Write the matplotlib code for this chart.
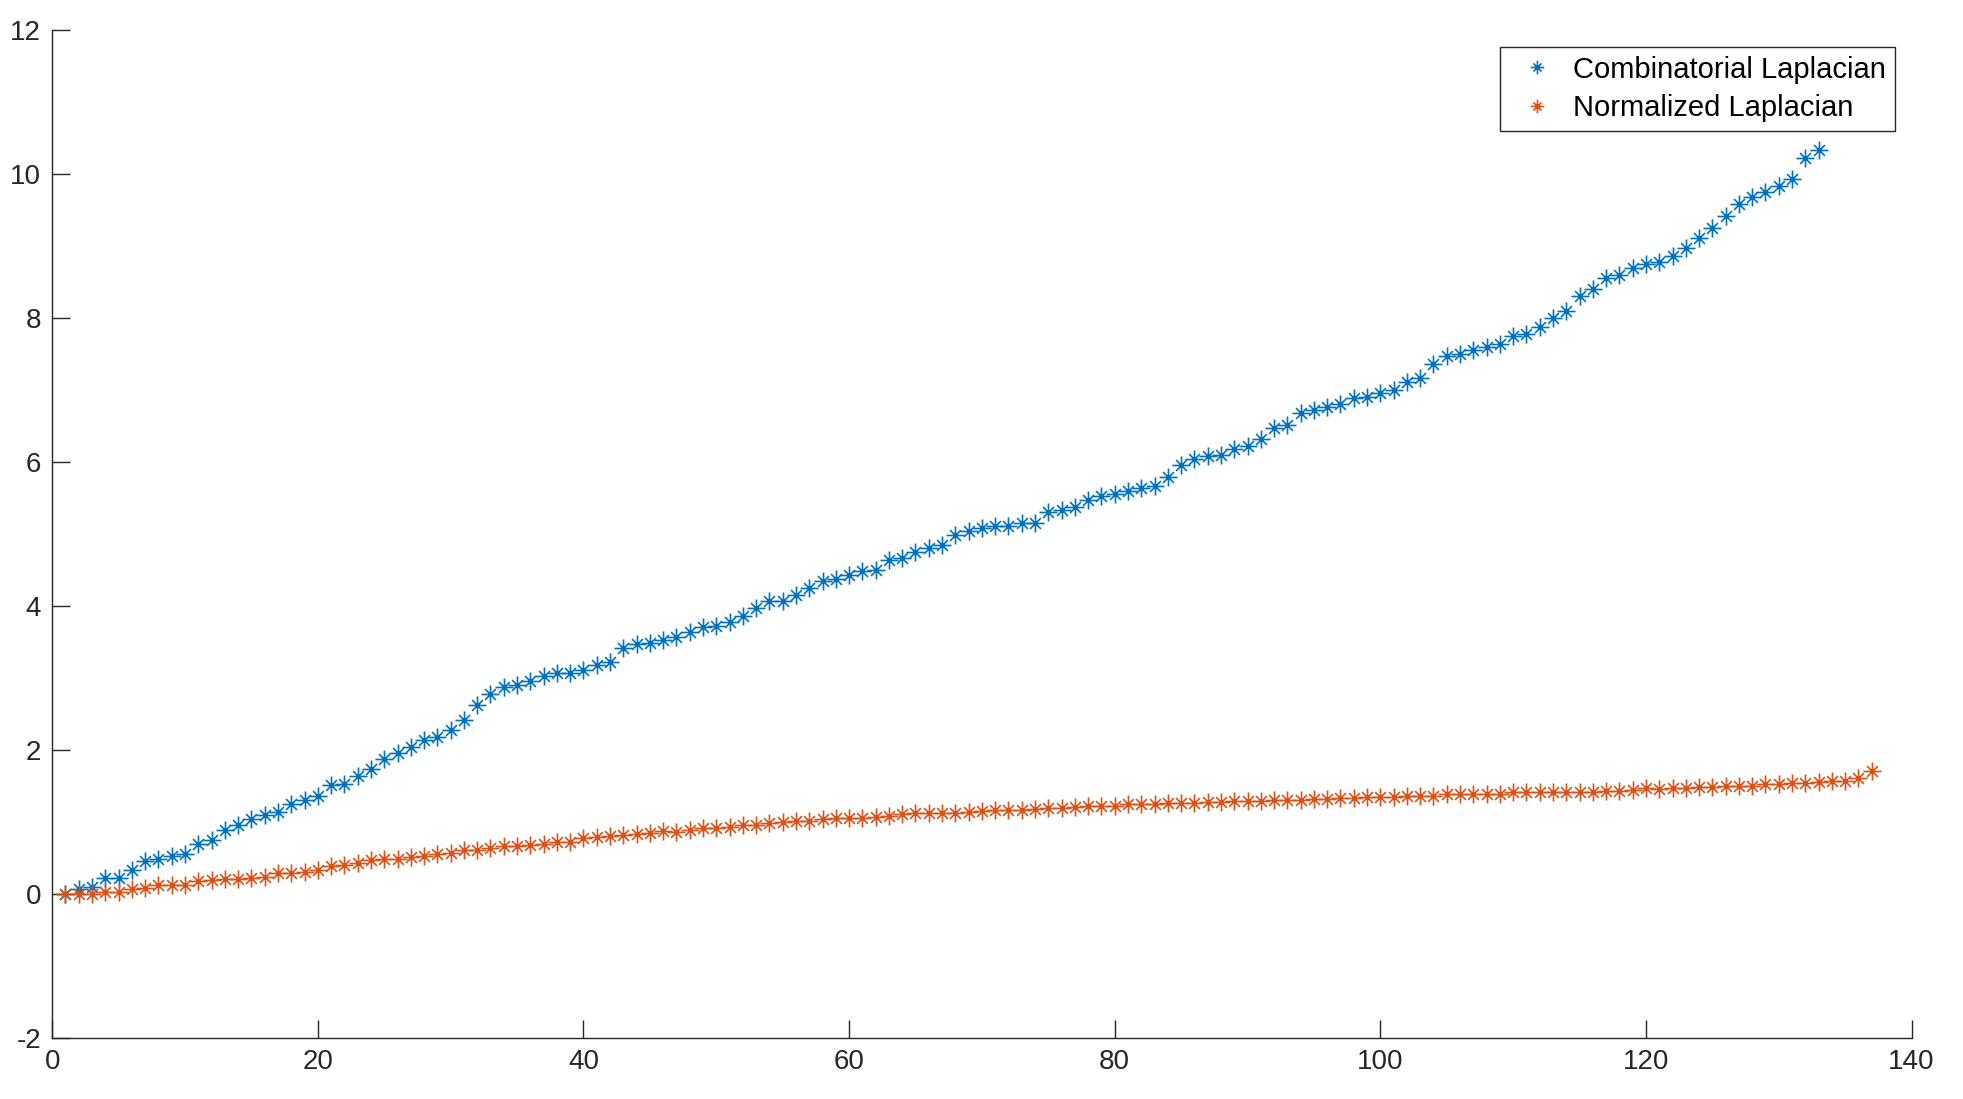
import matplotlib
matplotlib.use("Agg")
import matplotlib.pyplot as plt
from matplotlib.path import Path
import numpy as np

combinatorial = [
    0.0, 0.07, 0.105, 0.22, 0.22, 0.34, 0.46, 0.49, 0.53, 0.56,
    0.70, 0.76, 0.89, 0.96, 1.04, 1.10, 1.14, 1.25, 1.31, 1.36,
    1.52, 1.53, 1.65, 1.74, 1.88, 1.96, 2.04, 2.15, 2.18, 2.28,
    2.42, 2.63, 2.78, 2.875, 2.91, 2.96, 3.03, 3.07, 3.08, 3.115,
    3.18, 3.22, 3.42, 3.48, 3.49, 3.53, 3.58, 3.64, 3.71, 3.73,
    3.78, 3.87, 3.97, 4.08, 4.08, 4.16, 4.25, 4.35, 4.375, 4.43,
    4.49, 4.50, 4.64, 4.665, 4.75, 4.805, 4.85, 4.99, 5.04, 5.085,
    5.115, 5.115, 5.16, 5.16, 5.31, 5.34, 5.375, 5.48, 5.53, 5.555,
    5.60, 5.65, 5.67, 5.80, 5.96, 6.045, 6.09, 6.10, 6.19, 6.225,
    6.32, 6.47, 6.52, 6.69, 6.72, 6.77, 6.81, 6.89, 6.91, 6.96,
    7.01, 7.12, 7.17, 7.365, 7.47, 7.50, 7.56, 7.60, 7.65, 7.75,
    7.78, 7.88, 8.0, 8.10, 8.305, 8.41, 8.555, 8.60, 8.695, 8.76,
    8.785, 8.865, 8.97, 9.11, 9.25, 9.42, 9.59, 9.68, 9.75, 9.84,
    9.94, 10.22, 10.34,
]

normalized = [
    0.0, 0.01, 0.01, 0.03, 0.03, 0.07, 0.09, 0.125, 0.13, 0.13,
    0.185, 0.2, 0.21, 0.215, 0.23, 0.245, 0.29, 0.29, 0.31, 0.34,
    0.39, 0.405, 0.44, 0.475, 0.49, 0.49, 0.52, 0.535, 0.56, 0.58,
    0.615, 0.615, 0.65, 0.67, 0.67, 0.685, 0.70, 0.72, 0.72, 0.78,
    0.79, 0.81, 0.82, 0.84, 0.85, 0.875, 0.87, 0.89, 0.915, 0.925,
    0.94, 0.96, 0.96, 0.985, 1.01, 1.02, 1.02, 1.04, 1.055, 1.055,
    1.065, 1.08, 1.09, 1.11, 1.125, 1.125, 1.135, 1.135, 1.15, 1.155,
    1.17, 1.17, 1.17, 1.185, 1.20, 1.20, 1.21, 1.225, 1.225, 1.225,
    1.25, 1.25, 1.25, 1.265, 1.27, 1.27, 1.285, 1.285, 1.30, 1.30,
    1.30, 1.31, 1.31, 1.31, 1.325, 1.325, 1.34, 1.34, 1.355, 1.355,
    1.355, 1.37, 1.37, 1.37, 1.39, 1.39, 1.39, 1.40, 1.40, 1.415,
    1.415, 1.415, 1.42, 1.42, 1.42, 1.42, 1.435, 1.435, 1.45, 1.47,
    1.46, 1.48, 1.48, 1.495, 1.495, 1.51, 1.51, 1.51, 1.53, 1.53,
    1.54, 1.54, 1.565, 1.575, 1.58, 1.61, 1.71,
]

series_labels = ["Combinatorial Laplacian", "Normalized Laplacian"]
x_ticks = [0, 20, 40, 60, 80, 100, 120, 140]
y_ticks = [-2, 0, 2, 4, 6, 8, 10, 12]

plt.rcParams['font.family'] = ['Liberation Sans', 'DejaVu Sans']
plt.rcParams['axes.unicode_minus'] = False

# MATLAB-style asterisk marker: + and shorter x
d = 0.6
verts = [(-1, 0), (1, 0), (0, -1), (0, 1), (-d, -d), (d, d), (-d, d), (d, -d)]
codes = [Path.MOVETO, Path.LINETO] * 4
asterisk = Path(verts, codes)

fig = plt.figure(figsize=(19.63, 10.99), dpi=100)
ax = fig.add_axes([0.0266, 0.0552, 0.9472, 0.9172])

blue = '#0072BD'
orange = '#D95319'
ax.plot(np.arange(1, len(combinatorial) + 1), combinatorial, linestyle='none',
        marker=asterisk, markersize=13, markeredgewidth=1.2, markerfacecolor='none',
        markeredgecolor=blue, label=series_labels[0])
ax.plot(np.arange(1, len(normalized) + 1), normalized, linestyle='none',
        marker=asterisk, markersize=13, markeredgewidth=1.2, markerfacecolor='none',
        markeredgecolor=orange, label=series_labels[1])

ax.set_xlim(0, 140)
ax.set_ylim(-2, 12)
ax.set_xticks(x_ticks)
ax.set_yticks(y_ticks)
ax.set_xticklabels([str(t) for t in x_ticks])
ax.set_yticklabels([str(t) for t in y_ticks])

for s in ['top', 'right']:
    ax.spines[s].set_visible(False)
for s in ['left', 'bottom']:
    ax.spines[s].set_color('#262626')
    ax.spines[s].set_linewidth(1.0)
ax.tick_params(direction='in', length=13, width=1.0, colors='#262626',
               labelsize=20, labelcolor='#262626')
ax.tick_params(axis='x', pad=8)
ax.tick_params(axis='y', pad=8)

leg = ax.legend(loc='upper right', bbox_to_anchor=(0.991, 0.9837), fontsize=21,
                fancybox=False, framealpha=1, edgecolor='#262626',
                borderaxespad=0, handlelength=1.97, handletextpad=0.25,
                borderpad=0.3, labelspacing=0.36, markerscale=0.75)
leg.get_frame().set_linewidth(1.0)

fig.savefig('out.png', dpi=100)
